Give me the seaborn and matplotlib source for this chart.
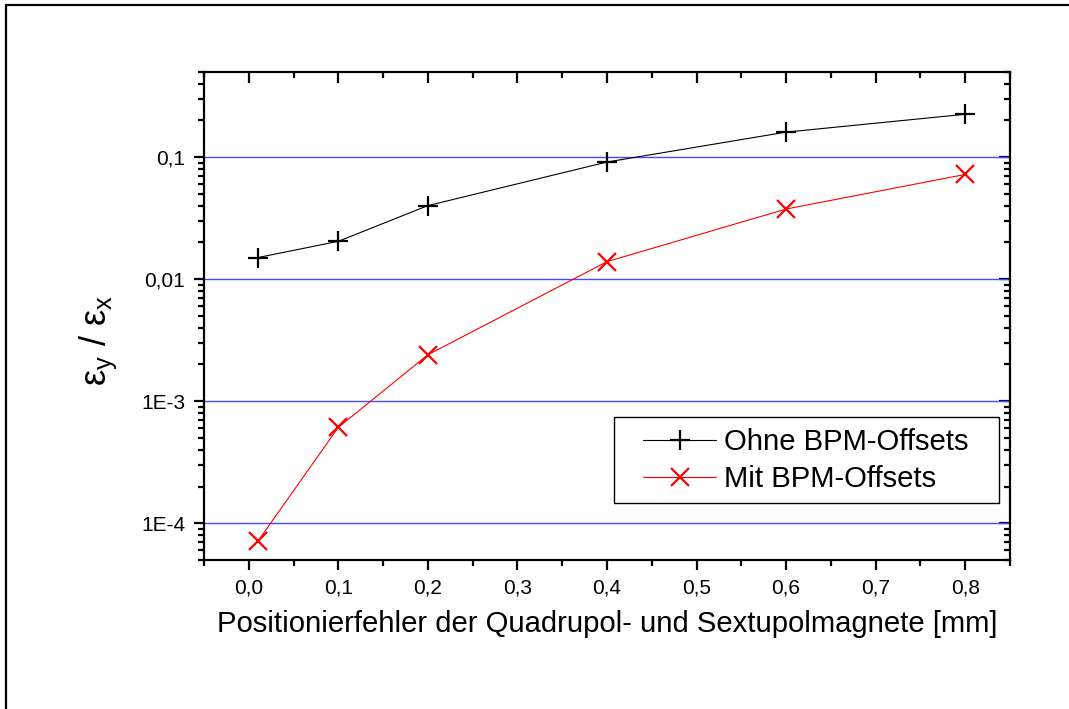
import numpy as np
import pandas as pd
import matplotlib
matplotlib.use("Agg")
import matplotlib.pyplot as plt
import seaborn as sns
from matplotlib.ticker import FixedLocator, FixedFormatter, LogLocator, NullFormatter, MultipleLocator
from matplotlib.lines import Line2D
from matplotlib.patches import Rectangle

# ---- data ----
x_ohne = [0.01, 0.1, 0.2, 0.4, 0.6, 0.8]
y_ohne = [0.015, 0.0204, 0.040, 0.091, 0.160, 0.224]
x_mit = [0.01, 0.1, 0.2, 0.4, 0.6, 0.8]
y_mit = [7.1e-5, 6.1e-4, 2.4e-3, 0.0139, 0.0375, 0.072]
label_ohne = "Ohne BPM-Offsets"
label_mit = "Mit BPM-Offsets"
xtick_vals = [0.0, 0.1, 0.2, 0.3, 0.4, 0.5, 0.6, 0.7, 0.8]
xtick_labels = ["0,0", "0,1", "0,2", "0,3", "0,4", "0,5", "0,6", "0,7", "0,8"]
ytick_vals = [1e-4, 1e-3, 1e-2, 1e-1]
ytick_labels = ["1E-4", "1E-3", "0,01", "0,1"]
xlabel = "Positionierfehler der Quadrupol- und Sextupolmagnete [mm]"
ylabel = r"$\mathregular{ε_y\ /\ ε_x}$"

sns.set_style("ticks")
plt.rcParams["font.family"] = ["Liberation Sans", "DejaVu Sans"]
plt.rcParams["mathtext.fontset"] = "custom"
plt.rcParams["mathtext.rm"] = "Liberation Sans"
plt.rcParams["mathtext.it"] = "Liberation Sans:italic"
for k in ["text.color", "axes.labelcolor", "xtick.color", "ytick.color", "axes.edgecolor"]:
    plt.rcParams[k] = "black"

fig = plt.figure(figsize=(10.69, 7.09), dpi=100)
W, H = 1069, 709
ax = fig.add_axes([204 / W, 1 - 560 / H, (1010 - 204) / W, (560 - 71.7) / H])

# figure frame (left and top lines)
fig.add_artist(Line2D([6 / W, 6 / W], [0, 1 - 5 / H], color="black", lw=1.6, transform=fig.transFigure))
fig.add_artist(Line2D([6 / W, 1], [1 - 5 / H, 1 - 5 / H], color="black", lw=1.6, transform=fig.transFigure))

df_ohne = pd.DataFrame({"x": x_ohne, "y": y_ohne})
df_mit = pd.DataFrame({"x": x_mit, "y": y_mit})

sns.lineplot(data=df_ohne, x="x", y="y", ax=ax, color="black", lw=0.8, marker="+",
             markersize=14, markeredgewidth=1.6, markeredgecolor="black", label=label_ohne, zorder=3)
sns.lineplot(data=df_mit, x="x", y="y", ax=ax, color="red", lw=0.8, marker="x",
             markersize=13, markeredgewidth=1.6, markeredgecolor="red", label=label_mit, zorder=3)

ax.set_yscale("log")
ax.set_xlim(-0.05, 0.85)
ax.set_ylim(5e-5, 0.5)

for v in ytick_vals:
    ax.axhline(v, color="#4848ff", lw=1.0, zorder=1)

ax.xaxis.set_major_locator(FixedLocator(xtick_vals))
ax.xaxis.set_major_formatter(FixedFormatter(xtick_labels))
ax.xaxis.set_minor_locator(MultipleLocator(0.05))
ax.yaxis.set_major_locator(FixedLocator(ytick_vals))
ax.yaxis.set_major_formatter(FixedFormatter(ytick_labels))
ax.yaxis.set_minor_locator(LogLocator(base=10, subs=np.arange(2, 10)))
ax.yaxis.set_minor_formatter(NullFormatter())

ax.tick_params(which="both", direction="out", width=1.6, colors="black",
               labelsize=15, top=False, right=False)
ax.tick_params(which="major", length=7.5, pad=6)
ax.tick_params(which="minor", length=4.5)

# top and right ticks pointing inward
sx = ax.secondary_xaxis("top")
sx.xaxis.set_major_locator(FixedLocator(xtick_vals))
sx.xaxis.set_minor_locator(MultipleLocator(0.05))
sx.tick_params(which="both", direction="in", width=1.6, labeltop=False)
sx.tick_params(which="major", length=8)
sx.tick_params(which="minor", length=4.5)
sy = ax.secondary_yaxis("right")
sy.yaxis.set_major_locator(FixedLocator(ytick_vals))
sy.yaxis.set_minor_locator(LogLocator(base=10, subs=np.arange(2, 10)))
sy.yaxis.set_minor_formatter(NullFormatter())
sy.tick_params(which="both", direction="in", width=1.6, labelright=False)
sy.tick_params(which="major", length=8)
sy.tick_params(which="minor", length=4.5)
for s in list(sx.spines.values()) + list(sy.spines.values()):
    s.set_visible(False)

for s in ax.spines.values():
    s.set_linewidth(1.6)
    s.set_color("black")
    s.set_visible(True)

ax.set_xlabel(xlabel, fontsize=21.1, labelpad=9)
ax.set_ylabel(ylabel, fontsize=26)
ax.yaxis.set_label_coords(-0.105, 0.449)

# legend (frameless) plus a separate square frame box
leg = ax.legend(loc="center left", bbox_to_anchor=(0.5447, 0.203), borderaxespad=0,
                fontsize=21.1, frameon=False, handlelength=2.5, handletextpad=0.27,
                labelspacing=0.3, borderpad=0)
ax.add_patch(Rectangle((0.5087, 0.1167), 0.4777, 0.1761, transform=ax.transAxes,
                       fill=True, facecolor="white", edgecolor="black", lw=1.0, zorder=4))
leg.set_zorder(5)

fig.savefig("out.png", dpi=100, facecolor="white")
